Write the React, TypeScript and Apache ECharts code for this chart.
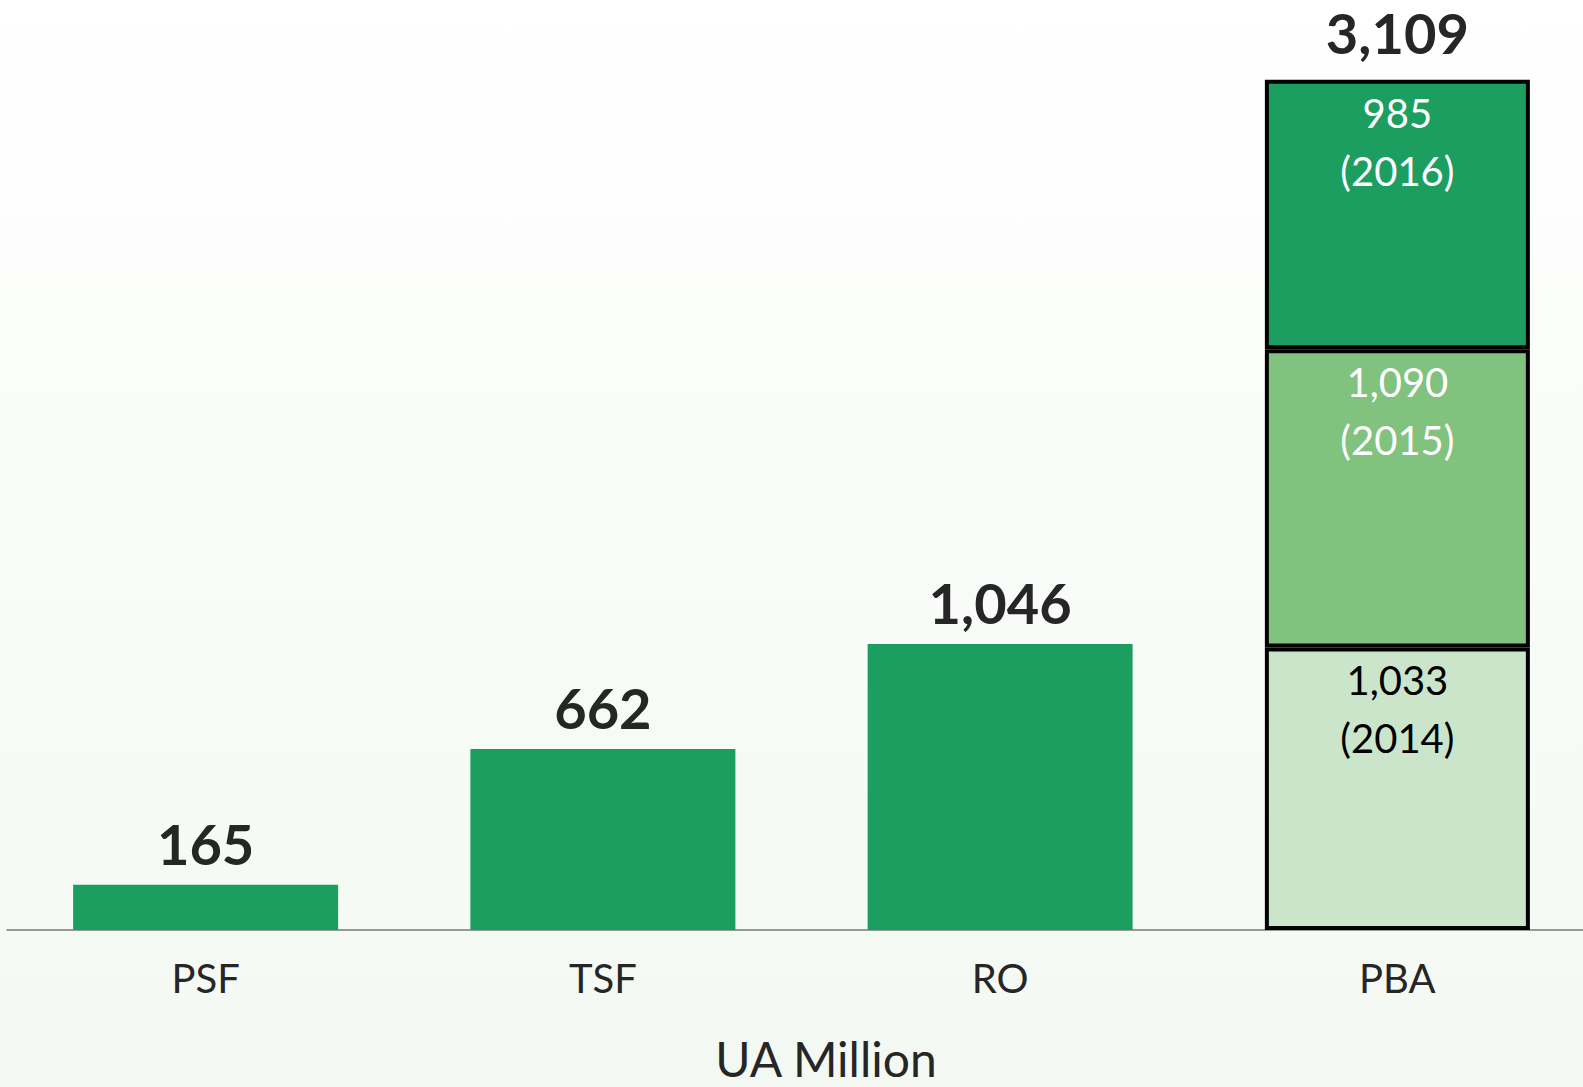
import React, { useEffect, useRef } from "react";
import * as echarts from "echarts";

const categories = ["PSF", "TSF", "RO", "PBA"];
const fundValues = [165, 662, 1046, null];
const pba2014 = [null, null, null, 1033];
const pba2015 = [null, null, null, 1090];
const pba2016 = [null, null, null, 985];
const totals = [165, 662, 1046, 3109];
const segmentYears = ["2014", "2015", "2016"];
const axisTitle = "UA Million";

const FONT = "Lato, 'Noto Sans', sans-serif";
const fmt = (v: number) => v.toLocaleString("en-US");

export default function App() {
  const ref = useRef<HTMLDivElement>(null);
  useEffect(() => {
    if (!ref.current) return;
    document.documentElement.style.overflow = "hidden";
    document.body.style.overflow = "hidden";
    const chart = echarts.init(ref.current, undefined, { renderer: "svg" });
    const segLabel = (color: string, year: string) => ({
      show: true,
      position: "insideTop",
      distance: 4,
      color,
      fontFamily: FONT,
      fontSize: 40,
      lineHeight: 58,
      formatter: (p: any) => `${fmt(p.value)}\n(${year})`,
    });
    const segStyle = (color: string) => ({
      color,
      borderColor: "#000000",
      borderWidth: 4,
    });
    chart.setOption({
      animation: false,
      backgroundColor: {
        type: "linear",
        x: 0,
        y: 0,
        x2: 0,
        y2: 1,
        colorStops: [
          { offset: 0, color: "#ffffff" },
          { offset: 1, color: "#f3f9f2" },
        ],
      },
      grid: { left: 7, right: 4, top: 0, bottom: 157, containLabel: false },
      xAxis: {
        type: "category",
        data: categories,
        axisLine: { show: true, lineStyle: { color: "#7a7a7a", width: 1.5 } },
        axisTick: { show: false },
        axisLabel: {
          color: "#262626",
          fontFamily: FONT,
          fontSize: 40,
          margin: 28,
        },
      },
      yAxis: {
        type: "value",
        min: 0,
        max: 3400,
        show: false,
        splitLine: { show: false },
      },
      series: [
        {
          name: "Fund",
          type: "bar",
          stack: "s",
          data: fundValues,
          barWidth: 265,
          itemStyle: { color: "#1d9e61" },
          label: {
            show: true,
            position: "top",
            distance: 16,
            color: "#262626",
            fontFamily: FONT,
            fontWeight: "bold",
            fontSize: 56,
            lineHeight: 50,
            formatter: (p: any) => fmt(p.value),
          },
        },
        {
          name: segmentYears[0],
          type: "bar",
          stack: "s",
          data: pba2014,
          barWidth: 265,
          itemStyle: segStyle("#cbe5cb"),
          label: segLabel("#000000", segmentYears[0]),
        },
        {
          name: segmentYears[1],
          type: "bar",
          stack: "s",
          data: pba2015,
          barWidth: 265,
          itemStyle: segStyle("#80c27e"),
          label: segLabel("#ffffff", segmentYears[1]),
        },
        {
          name: segmentYears[2],
          type: "bar",
          stack: "s",
          data: pba2016,
          barWidth: 265,
          itemStyle: segStyle("#1d9e61"),
          label: segLabel("#ffffff", segmentYears[2]),
        },
        {
          name: "Total",
          type: "bar",
          stack: "s",
          data: [null, null, null, 0],
          barWidth: 265,
          itemStyle: { color: "transparent", borderWidth: 0 },
          label: {
            show: true,
            position: "top",
            distance: 22,
            color: "#262626",
            fontFamily: FONT,
            fontWeight: "bold",
            fontSize: 56,
            lineHeight: 50,
            formatter: (p: any) => fmt(totals[p.dataIndex]),
          },
        },
      ],
      graphic: [
        {
          type: "text",
          x: 826,
          y: 1033,
          style: {
            text: axisTitle,
            fontFamily: FONT,
            fontSize: 48,
            lineHeight: 50,
            fill: "#262626",
            textAlign: "center",
            textVerticalAlign: "top",
          },
        },
      ],
    });
    return () => chart.dispose();
  }, []);
  return (
    <div
      ref={ref}
      style={{ position: "fixed", left: 0, top: 0, width: 1600, height: 1087 }}
    />
  );
}
